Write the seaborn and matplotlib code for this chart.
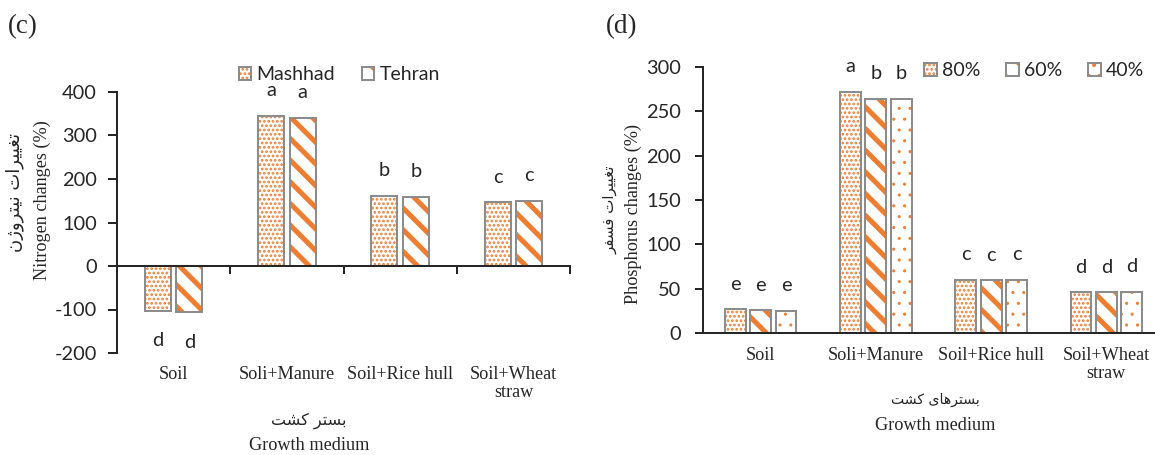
import matplotlib
matplotlib.use('Agg')
import matplotlib.pyplot as plt
from matplotlib.patches import Patch, Rectangle
import pandas as pd
import seaborn as sns

# ---- data ----
media = ['Soil', 'Soli+Manure', 'Soil+Rice hull', 'Soil+Wheat\nstraw']

# (c) nitrogen changes (%)
n_sites = ['Mashhad', 'Tehran']
n_mashhad = [-103, 345, 162, 146]
n_tehran = [-106, 341, 159, 150]
n_letters_mashhad = ['d', 'a', 'b', 'c']
n_letters_tehran = ['d', 'a', 'b', 'c']
n_ticks = [-200, -100, 0, 100, 200, 300, 400]

# (d) phosphorus changes (%)
p_levels = ['80%', '60%', '40%']
p_80 = [27, 272, 60, 46]
p_60 = [26, 264, 59.5, 46]
p_40 = [25.5, 264, 60, 46.5]
p_letters_80 = ['e', 'a', 'c', 'd']
p_letters_60 = ['e', 'b', 'c', 'd']
p_letters_40 = ['e', 'b', 'c', 'd']
p_ticks = [0, 50, 100, 150, 200, 250, 300]

ORANGE = '#ED7D31'
GRAY = '#8C8C8C'
W, H, DPI = 1155, 455, 130


def px(v):
    # pixels -> points
    return v * 72 / DPI


# Persian text: matplotlib does no Arabic shaping, so pick presentation forms by hand
FORMS = {
    'ا': ('\uFE8D', '\uFE8E', None, None),
    'ب': ('\uFE8F', '\uFE90', '\uFE91', '\uFE92'),
    'ت': ('\uFE95', '\uFE96', '\uFE97', '\uFE98'),
    'ر': ('\uFEAD', '\uFEAE', None, None),
    'ژ': ('\uFB8A', '\uFB8B', None, None),
    'س': ('\uFEB1', '\uFEB2', '\uFEB3', '\uFEB4'),
    'ش': ('\uFEB5', '\uFEB6', '\uFEB7', '\uFEB8'),
    'غ': ('\uFECD', '\uFECE', '\uFECF', '\uFED0'),
    'ف': ('\uFED1', '\uFED2', '\uFED3', '\uFED4'),
    'ک': ('\uFB8E', '\uFB8F', '\uFB90', '\uFB91'),
    'ن': ('\uFEE5', '\uFEE6', '\uFEE7', '\uFEE8'),
    'و': ('\uFEED', '\uFEEE', None, None),
    'ه': ('\uFEE9', '\uFEEA', '\uFEEB', '\uFEEC'),
    'ی': ('\uFBFC', '\uFBFD', '\uFBFE', '\uFBFF'),
}


def shape(text):
    out = []
    for i, ch in enumerate(text):
        if ch not in FORMS:
            out.append(ch)
            continue
        prev = text[i - 1] if i > 0 else ''
        nxt = text[i + 1] if i + 1 < len(text) else ''
        join_prev = prev in FORMS and FORMS[prev][2] is not None
        join_next = FORMS[ch][2] is not None and nxt in FORMS
        iso, fin, ini, med = FORMS[ch]
        if join_prev and join_next:
            out.append(med)
        elif join_prev:
            out.append(fin)
        elif join_next:
            out.append(ini)
        else:
            out.append(iso)
    return ''.join(reversed(out))


def ax_rect(left, right, top, bottom):
    return [left / W, 1 - bottom / H, (right - left) / W, (bottom - top) / H]


def draw_bars(ax, df, group_col, levels, hatches, hatch_lws, letters, width, gap):
    sns.barplot(data=df, x='medium', y='value', hue=group_col, hue_order=levels,
                order=media, palette=['white'] * len(levels), width=width, gap=gap,
                errorbar=None, legend=False, ax=ax)
    for cont, hatch, hlw, labs in zip(ax.containers, hatches, hatch_lws, letters):
        for bar, val in zip(cont, cont.datavalues):
            bar.set_facecolor('white')
            bar.set_edgecolor(ORANGE)
            bar.set_linewidth(0)
            bar.set_hatch(hatch)
            bar.set_hatch_linewidth(hlw)
            ax.add_patch(Rectangle((bar.get_x(), bar.get_y()), bar.get_width(),
                                   bar.get_height(), fill=False, edgecolor=GRAY,
                                   linewidth=px(2), zorder=bar.get_zorder() + 0.1))
            xc = bar.get_x() + bar.get_width() / 2
            lab = labs[int(round(xc))]
            off = 25 if val >= 0 else -30
            ax.annotate(lab, (xc, val), xytext=(0, px(off)), textcoords='offset points',
                        ha='center', va='center', fontsize=px(20), family='Lato')
    ax.set_xlabel('')
    ax.set_ylabel('')


def legend_handles(hatches, hatch_lws):
    hs = []
    for hatch, hlw in zip(hatches, hatch_lws):
        a = Patch(facecolor='white', edgecolor=ORANGE, linewidth=0, hatch=hatch)
        a.set_hatch_linewidth(hlw)
        b = Patch(fill=False, edgecolor=GRAY, linewidth=px(2))
        hs.append((a, b))
    return hs


sns.set_style('ticks')
plt.rcParams['font.family'] = ['Lato', 'DejaVu Sans']
plt.rcParams['axes.linewidth'] = px(2)
plt.rcParams['axes.unicode_minus'] = False

fig = plt.figure(figsize=(W / DPI, H / DPI), dpi=DPI)

# ---------------- panel (c) ----------------
df_n = pd.DataFrame({
    'medium': media * 2,
    'site': [n_sites[0]] * 4 + [n_sites[1]] * 4,
    'value': n_mashhad + n_tehran,
})
hatch_n = ['.....', '\\\\']
hlw_n = [px(1.8), px(5)]

ax1 = fig.add_axes(ax_rect(117, 570, 92, 353))
draw_bars(ax1, df_n, 'site', n_sites, hatch_n, hlw_n,
          [n_letters_mashhad, n_letters_tehran], width=0.56, gap=0.18)
ax1.set_ylim(-200, 400)
ax1.set_xlim(-0.5, 3.5)
ax1.set_yticks(n_ticks)
ax1.spines['top'].set_visible(False)
ax1.spines['right'].set_visible(False)
ax1.spines['bottom'].set_position(('data', 0))
ax1.set_xticks(range(4))
ax1.set_xticklabels(media, family='Liberation Serif', fontsize=px(18.2), linespacing=1.05)
ax1.set_xticks([0.5, 1.5, 2.5, 3.5], minor=True)
ax1.tick_params(axis='x', which='major', length=0, pad=px(100))
ax1.tick_params(axis='x', which='minor', length=px(8), width=px(2), direction='out')
ax1.tick_params(axis='y', length=px(9), width=px(2), direction='out',
                labelsize=px(20), pad=px(11))

ax1.legend(handles=legend_handles(hatch_n, hlw_n), labels=n_sites, ncol=2,
           loc='center left', bbox_to_anchor=(239 / W, 1 - 75 / H),
           bbox_transform=fig.transFigure, frameon=False, fontsize=px(19.5),
           borderpad=0, borderaxespad=0, handlelength=0.6, handleheight=0.6,
           handletextpad=0.3, columnspacing=1.4)

fig.text(8 / W, 1 - 27 / H, '(c)', family='Liberation Serif', fontsize=px(27),
         ha='left', va='center')
fig.text(15 / W, 1 - 193 / H, shape('تغییرات نیتروژن'), family='DejaVu Sans',
         fontsize=px(18), rotation=90, ha='center', va='center')
fig.text(42 / W, 1 - 200 / H, 'Nitrogen changes (%)', family='Liberation Serif',
         fontsize=px(18.2), rotation=90, ha='center', va='center')
fig.text(309 / W, 1 - 421 / H, shape('بستر کشت'), family='DejaVu Sans',
         fontsize=px(16), ha='center', va='center')
fig.text(309 / W, 1 - 446 / H, 'Growth medium', family='Liberation Serif',
         fontsize=px(18.2), ha='center', va='center')

# ---------------- panel (d) ----------------
df_p = pd.DataFrame({
    'medium': media * 3,
    'level': [p_levels[0]] * 4 + [p_levels[1]] * 4 + [p_levels[2]] * 4,
    'value': p_80 + p_60 + p_40,
})
hatch_p = ['.....', '\\\\', '..']
hlw_p = [px(1.8), px(5), px(0.9)]

ax2 = fig.add_axes(ax_rect(703, 1164, 66.7, 333.3))
draw_bars(ax2, df_p, 'level', p_levels, hatch_p, hlw_p,
          [p_letters_80, p_letters_60, p_letters_40], width=0.66, gap=0.18)
ax2.set_ylim(0, 300)
ax2.set_xlim(-0.5, 3.5)
ax2.set_yticks(p_ticks)
ax2.spines['top'].set_visible(False)
ax2.spines['right'].set_visible(False)
ax2.set_xticks(range(4))
ax2.set_xticklabels(media, family='Liberation Serif', fontsize=px(18.2), linespacing=1.05)
ax2.tick_params(axis='x', length=0, pad=px(14))
ax2.tick_params(axis='y', length=px(8), width=px(2), direction='out',
                labelsize=px(20), pad=px(14))

ax2.legend(handles=legend_handles(hatch_p, hlw_p), labels=p_levels, ncol=3,
           loc='center left', bbox_to_anchor=(924 / W, 1 - 71 / H),
           bbox_transform=fig.transFigure, frameon=False, fontsize=px(19.5),
           borderpad=0, borderaxespad=0, handlelength=0.65, handleheight=0.65,
           handletextpad=0.25, columnspacing=1.35)

fig.text(606 / W, 1 - 27 / H, '(d)', family='Liberation Serif', fontsize=px(27),
         ha='left', va='center')
fig.text(610 / W, 1 - 210 / H, shape('تغییرات فسفر'), family='DejaVu Sans',
         fontsize=px(15), rotation=90, ha='center', va='center')
fig.text(633 / W, 1 - 214 / H, 'Phosphorus changes (%)', family='Liberation Serif',
         fontsize=px(18.2), rotation=90, ha='center', va='center')
fig.text(935 / W, 1 - 400 / H, shape('بسترهای کشت'), family='DejaVu Sans',
         fontsize=px(14), ha='center', va='center')
fig.text(935 / W, 1 - 425 / H, 'Growth medium', family='Liberation Serif',
         fontsize=px(18.2), ha='center', va='center')

fig.savefig('out.png', dpi=DPI)
